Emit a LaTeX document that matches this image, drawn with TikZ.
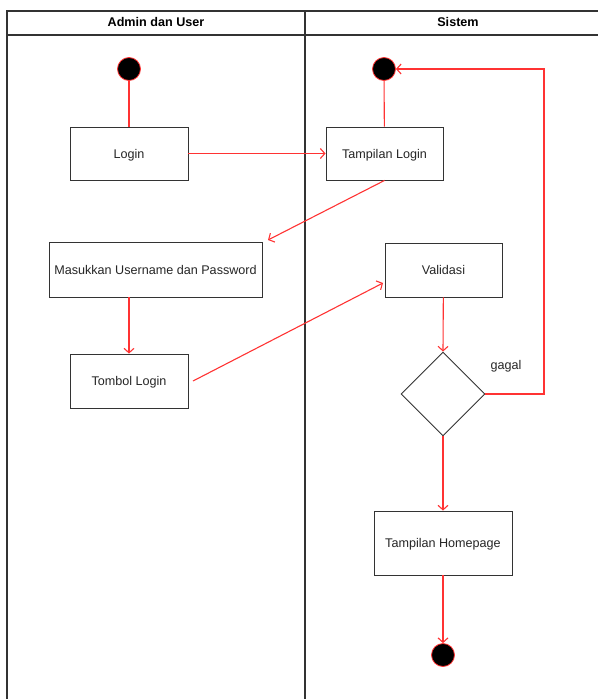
\documentclass[tikz,border=0pt]{standalone}
\usepackage{fontspec}
\setmainfont{Liberation Sans}
\usetikzlibrary{arrows.meta,shapes.geometric}
\definecolor{flow}{HTML}{FF3333}
\definecolor{edge}{HTML}{333333}
\tikzset{
  act/.style={draw=edge, line width=0.9pt, fill=white, inner sep=0pt, text height=9pt, text depth=0pt, font=\fontsize{12.6}{14}\selectfont, text=black!85},
  startdot/.style={circle, fill=black, draw=flow, line width=0.8pt, minimum size=23pt, inner sep=0pt},
  flowline/.style={draw=flow, line width=1.1pt},
  flowarrow/.style={flowline, -{Straight Barb[length=4.5pt,width=10pt]}},
  lane/.style={draw=edge, line width=1.2pt},
  head/.style={font=\bfseries\fontsize{12.6}{14}\selectfont}
}
\begin{document}
\begin{tikzpicture}[x=1pt,y=-1pt]
\useasboundingbox (0,0) rectangle (598,699);
% swimlanes
\draw[lane] (7,699) -- (7,11) -- (598,11);
\draw[lane] (7,35) -- (598,35);
\draw[lane] (305,11) -- (305,699);
\node[head] (h1) at (156,22) {Admin dan User};
\node[head] (h2) at (458,22) {Sistem};
% left lane
\node[startdot] (s1) at (129,69) {};
\node[act, minimum width=118pt, minimum height=53pt] (login) at (129,153.5) {Login};
\node[act, minimum width=213pt, minimum height=55pt] (masuk) at (155.5,269.5) {Masukkan Username dan Password};
\node[act, minimum width=118pt, minimum height=54pt] (tombol) at (129,381) {Tombol Login};
% right lane
\node[startdot] (s2) at (384,69) {};
\node[act, minimum width=117pt, minimum height=53pt] (tlogin) at (384.5,153.5) {Tampilan Login};
\node[act, minimum width=117pt, minimum height=54pt] (valid) at (443.5,270) {Validasi};
\node[diamond, draw=edge, line width=0.9pt, minimum width=84pt, minimum height=84pt, inner sep=0pt] (dec) at (443,394) {};
\node[font=\fontsize{12.6}{14}\selectfont, text=black!85] (gagal) at (506,366) {gagal};
\node[act, minimum width=138pt, minimum height=64pt] (home) at (443,543) {Tampilan Homepage};
\node[startdot] (e1) at (443,655) {};
\coordinate (g1) at (544,394);
\coordinate (g2) at (544,69);
\coordinate (tl) at (268,240);
\coordinate (tb) at (193,381);
\coordinate (va) at (383,283);
% flows
\draw[flowline] (s1) -- (login);
\draw[flowline] (s2) -- (tlogin);
\draw[flowarrow] (login) -- (tlogin);
\draw[flowarrow] (tlogin.south) -- (tl);
\draw[flowarrow] (masuk.south -| tombol.north) -- (tombol.north);
\draw[flowarrow] (tb) -- (va);
\draw[flowarrow] (valid) -- (dec.north);
\draw[flowarrow] (dec.east) -- (g1) -- (g2) -- (s2);
\draw[flowarrow] (dec.south) -- (home);
\draw[flowarrow] (home) -- (e1);
\end{tikzpicture}
\end{document}
